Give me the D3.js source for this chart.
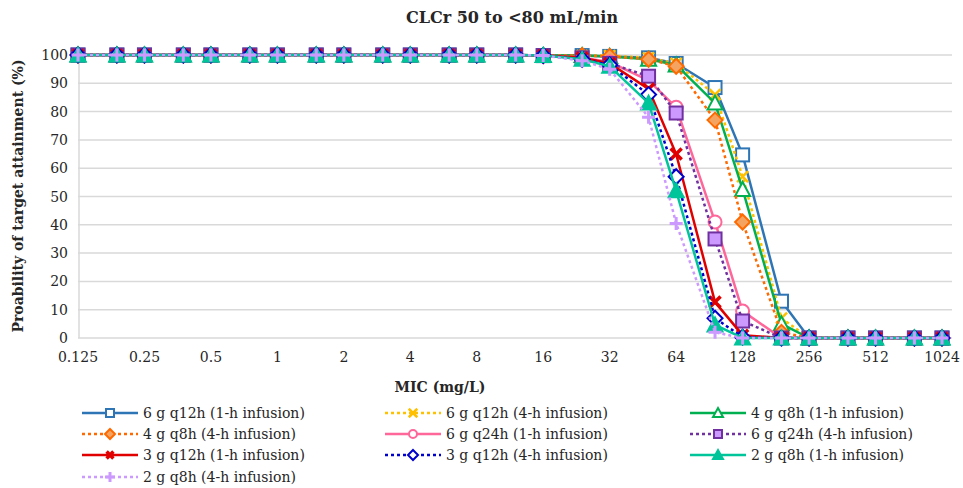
<!DOCTYPE html>
<html lang="en">
<head>
<meta charset="utf-8">
<title>CLCr 50 to <80 mL/min</title>
<script src="https://cdn.jsdelivr.net/npm/d3@7"></script>
<style>
  body { margin: 0; background: #fff; }
  svg text { font-family: "Palatino Linotype", "Book Antiqua", Palatino, "DejaVu Serif", serif; fill: #262626; }
</style>
</head>
<body>
<script>
// MIC values (mg/L)
var mic = [0.125, 0.1875, 0.25, 0.375, 0.5, 0.75, 1, 1.5, 2, 3, 4, 6, 8, 12, 16,
           24, 32, 48, 64, 96, 128, 192, 256, 384, 512, 768, 1024];
var xTicks = [0.125, 0.25, 0.5, 1, 2, 4, 8, 16, 32, 64, 128, 256, 512, 1024];
var yTicks = [0, 10, 20, 30, 40, 50, 60, 70, 80, 90, 100];

// probability at 0.125 .. 12 is 100 for every regimen
var head = [100, 100, 100, 100, 100, 100, 100, 100, 100, 100, 100, 100, 100, 100];
var names = [
  "6 g q12h (1-h infusion)", "6 g q12h (4-h infusion)", "4 g q8h (1-h infusion)",
  "4 g q8h (4-h infusion)", "6 g q24h (1-h infusion)", "6 g q24h (4-h infusion)",
  "3 g q12h (1-h infusion)", "3 g q12h (4-h infusion)", "2 g q8h (1-h infusion)",
  "2 g q8h (4-h infusion)"
];
//            16    24    32    48    64    96    128   192  256 384 512 768 1024
var s6q12_1 = [99.8, 99.8, 99.5, 99,   97,   88.5, 64.7, 13,  0, 0, 0, 0, 0];
var s6q12_4 = [99.8, 99.8, 99.8, 99,   97,   86,   57,   7,   0, 0, 0, 0, 0];
var s4q8_1  = [99.8, 99.8, 99.5, 98.5, 96.5, 83,   52.5, 5,   0, 0, 0, 0, 0];
var s4q8_4  = [99.8, 99.8, 99.5, 98.5, 96,   77,   41,   2,   0, 0, 0, 0, 0];
var s6q24_1 = [99.8, 99,   97.5, 91,   81.5, 41,   9.5,  0,   0, 0, 0, 0, 0];
var s6q24_4 = [99.8, 99,   97,   92.5, 79.5, 35,   6,    0,   0, 0, 0, 0, 0];
var s3q12_1 = [99.8, 99,   97,   88,   65,   12.7, 1,    0,   0, 0, 0, 0, 0];
var s3q12_4 = [99.8, 98.5, 96.5, 86,   57,   7,    0.3,  0,   0, 0, 0, 0, 0];
var s2q8_1  = [99.8, 98.5, 96,   83,   52,   4.6,  0,    0,   0, 0, 0, 0, 0];
var s2q8_4  = [99.8, 98,   95,   78,   40.5, 2,    0,    0,   0, 0, 0, 0, 0];

var values = [s6q12_1, s6q12_4, s4q8_1, s4q8_4, s6q24_1, s6q24_4, s3q12_1, s3q12_4, s2q8_1, s2q8_4]
  .map(function(s) { return head.concat(s); });

var styles = [
  {color: "#2E75B6", dash: null,  marker: "square",   fill: "#fff"},
  {color: "#FFC000", dash: "3,3", marker: "x",        fill: "none"},
  {color: "#00B050", dash: null,  marker: "triangle", fill: "#fff"},
  {color: "#FF6A00", dash: "3,3", marker: "diamond",  fill: "#F4A460"},
  {color: "#FF6699", dash: null,  marker: "circle",   fill: "#fff"},
  {color: "#7030A0", dash: "3,3", marker: "square",   fill: "#CC99FF"},
  {color: "#E00000", dash: null,  marker: "star",     fill: "none"},
  {color: "#0000CC", dash: "3,3", marker: "diamond",  fill: "#fff"},
  {color: "#00C49A", dash: null,  marker: "triangle", fill: "#00C49A"},
  {color: "#CC99FF", dash: "3,3", marker: "plus",     fill: "none"}
];

var w = 963, h = 488;
var pLeft = 78, pRight = 942, pTop = 55, pBottom = 338;

var svg = d3.select("body").append("svg").attr("width", w).attr("height", h);

var x = d3.scaleLog().base(2).domain([0.125, 1024]).range([pLeft, pRight]);
var y = d3.scaleLinear().domain([0, 100]).range([pBottom, pTop]);

// gridlines
svg.append("g").selectAll("line").data(yTicks).enter().append("line")
  .attr("x1", pLeft).attr("x2", 952)
  .attr("y1", function(d) { return y(d); }).attr("y2", function(d) { return y(d); })
  .attr("stroke", "#d9d9d9").attr("stroke-width", 1.5);
svg.append("line").attr("x1", pLeft + 1).attr("x2", pLeft + 1)
  .attr("y1", pTop).attr("y2", pBottom)
  .attr("stroke", "#d9d9d9").attr("stroke-width", 1.5);

// y labels
svg.append("g").selectAll("text").data(yTicks).enter().append("text")
  .attr("x", 68).attr("y", function(d) { return y(d) + 5; })
  .attr("text-anchor", "end").attr("font-size", 14)
  .text(function(d) { return d; });

// x labels
svg.append("g").selectAll("text").data(xTicks).enter().append("text")
  .attr("x", function(d) { return x(d); }).attr("y", 362)
  .attr("text-anchor", "middle").attr("font-size", 14)
  .text(function(d) { return d; });

// titles
svg.append("text").attr("x", 512).attr("y", 23).attr("text-anchor", "middle")
  .attr("font-size", 16).attr("font-weight", "bold").text("CLCr 50 to <80 mL/min");
svg.append("text").attr("x", 440).attr("y", 392).attr("text-anchor", "middle")
  .attr("font-size", 14).attr("font-weight", "bold").text("MIC (mg/L)");
svg.append("text").attr("transform", "translate(23,196) rotate(-90)")
  .attr("text-anchor", "middle").attr("font-size", 14).attr("font-weight", "bold")
  .text("Proability of target attainment (%)");

function drawMarker(g, type, st, size) {
  var s = size / 2;
  if (type == "square") {
    g.append("rect").attr("x", -s).attr("y", -s).attr("width", size).attr("height", size)
      .attr("fill", st.fill).attr("stroke", st.color).attr("stroke-width", 2);
  } else if (type == "diamond") {
    g.append("path").attr("d", "M0," + (-s - 1) + "L" + (s + 1) + ",0L0," + (s + 1) + "L" + (-s - 1) + ",0Z")
      .attr("fill", st.fill).attr("stroke", st.color).attr("stroke-width", 2);
  } else if (type == "triangle") {
    g.append("path").attr("d", "M0," + (-s - 1) + "L" + (s + 1) + "," + s + "L" + (-s - 1) + "," + s + "Z")
      .attr("fill", st.fill).attr("stroke", st.color).attr("stroke-width", 2);
  } else if (type == "circle") {
    g.append("circle").attr("r", s).attr("fill", st.fill)
      .attr("stroke", st.color).attr("stroke-width", 2);
  } else if (type == "x" || type == "star") {
    var k = s * 0.85;
    g.append("path").attr("d", "M" + (-k) + "," + (-k) + "L" + k + "," + k + "M" + (-k) + "," + k + "L" + k + "," + (-k))
      .attr("stroke", st.color).attr("stroke-width", type == "star" ? 3.5 : 2.5).attr("fill", "none");
  } else if (type == "plus") {
    g.append("path").attr("d", "M0," + (-s) + "L0," + s + "M" + (-s) + ",0L" + s + ",0")
      .attr("stroke", st.color).attr("stroke-width", 3).attr("fill", "none");
  }
}

var line = d3.line()
  .x(function(d, i) { return x(mic[i]); })
  .y(function(d) { return y(d); });

values.forEach(function(vals, k) {
  var st = styles[k];
  var g = svg.append("g");
  g.append("path").attr("d", line(vals)).attr("fill", "none")
    .attr("stroke", st.color).attr("stroke-width", 2.5)
    .attr("stroke-dasharray", st.dash);
  g.selectAll("g.m").data(vals).enter().append("g").attr("class", "m")
    .attr("transform", function(d, i) { return "translate(" + x(mic[i]) + "," + y(d) + ")"; })
    .each(function() { drawMarker(d3.select(this), st.marker, st, 13); });
});

// legend
var colX = [82, 385, 690];
var rowY = [413, 434, 455, 477];
names.forEach(function(n, k) {
  var st = styles[k];
  var g = svg.append("g")
    .attr("transform", "translate(" + colX[k % 3] + "," + rowY[Math.floor(k / 3)] + ")");
  g.append("line").attr("x1", 0).attr("x2", 56).attr("y1", 0).attr("y2", 0)
    .attr("stroke", st.color).attr("stroke-width", 2.5).attr("stroke-dasharray", st.dash);
  var m = g.append("g").attr("transform", "translate(28,0)");
  drawMarker(m, st.marker, st, (st.marker == "x" || st.marker == "plus") ? 10 : 8);
  g.append("text").attr("x", 61).attr("y", 5).attr("font-size", 14).text(n);
});
</script>
</body>
</html>
